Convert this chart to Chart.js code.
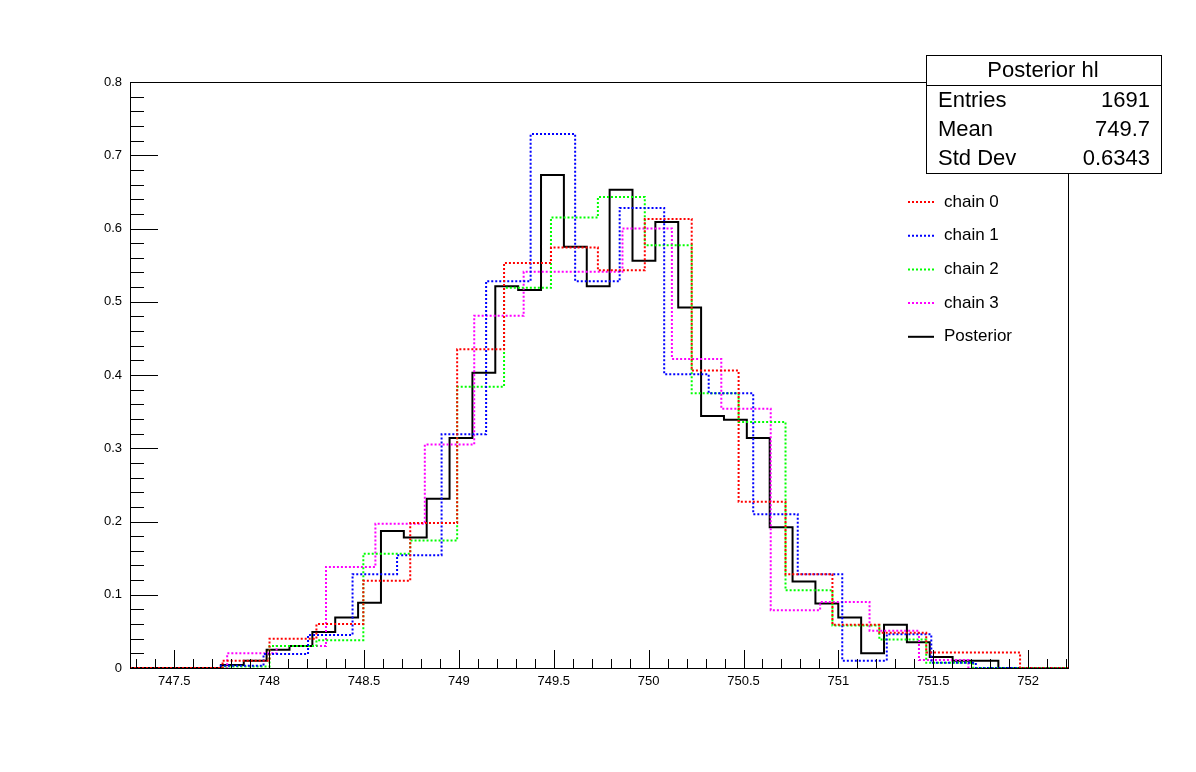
<!DOCTYPE html>
<html>
<head>
<meta charset="utf-8">
<script src="https://cdn.jsdelivr.net/npm/chart.js@4/dist/chart.umd.min.js"></script>
<style>
  body { margin: 0; background: #fff; }
  #wrap { width: 1196px; height: 772px; }
</style>
</head>
<body>
<div id="wrap"><canvas id="c" width="1196" height="772"></canvas></div>
<script>
// histogram bins: first edge, bin width, contents
const xMin = 747.267, xMax = 752.21;
const xTicksMajor = 0.5, yTicksMajor = 0.1;

const chain0Start = 747.755, chain0Width = 0.2472;
const chain0 = [0.010, 0.040, 0.060, 0.119, 0.198, 0.435, 0.553, 0.574, 0.543, 0.613, 0.406, 0.227, 0.128, 0.059, 0.048, 0.021, 0.021];

const chain1Start = 747.736, chain1Width = 0.2346;
const chain1 = [0.003, 0.019, 0.045, 0.128, 0.154, 0.319, 0.528, 0.729, 0.528, 0.628, 0.401, 0.375, 0.210, 0.128, 0.010, 0.046, 0.007];

const chain2Start = 747.755, chain2Width = 0.2472;
const chain2 = [0.002, 0.030, 0.038, 0.156, 0.174, 0.384, 0.519, 0.615, 0.643, 0.577, 0.375, 0.336, 0.106, 0.058, 0.039, 0.007];

const chain3Start = 747.779, chain3Width = 0.2604;
const chain3 = [0.020, 0.030, 0.138, 0.197, 0.305, 0.481, 0.541, 0.541, 0.600, 0.422, 0.354, 0.079, 0.090, 0.051, 0.011];

const postStart = 747.746, postWidth = 0.1205;
const posterior = [0.004, 0.010, 0.025, 0.030, 0.049, 0.069, 0.089, 0.187, 0.178, 0.231, 0.314, 0.403, 0.521, 0.516, 0.673, 0.575, 0.521, 0.653, 0.556, 0.609, 0.492, 0.344, 0.339, 0.314, 0.192, 0.118, 0.088, 0.069, 0.020, 0.059, 0.035, 0.015, 0.010, 0.010];

const legendNames = ['chain 0', 'chain 1', 'chain 2', 'chain 3', 'Posterior'];
const statsTitle = 'Posterior hl';
const statsRows = [['Entries', '1691'], ['Mean', '749.7'], ['Std Dev', '0.6343']];

// turn bins into step points
function steps(start, width, vals) {
    const pts = [{ x: xMin, y: 0 }];
    vals.forEach((v, i) => pts.push({ x: start + i * width, y: v }));
    pts.push({ x: start + vals.length * width, y: 0 });
    pts.push({ x: xMax, y: 0 });
    return pts;
}

function serie(label, pts, color, dotted) {
    return {
        label: label, data: pts, borderColor: color, borderWidth: 2,
        borderDash: dotted ? [2, 2] : [], stepped: 'before',
        pointRadius: 0, fill: false, tension: 0
    };
}

const colors = ['#ff0000', '#0000ff', '#00ff00', '#ff00ff', '#000000'];

const rootDeco = {
    id: 'rootDeco',
    afterDraw(chart) {
        const g = chart.ctx, a = chart.chartArea;
        const xs = chart.scales.x, ys = chart.scales.y;
        g.save();
        g.strokeStyle = '#000'; g.lineWidth = 1;
        g.strokeRect(a.left + 0.5, a.top + 0.5, a.right - a.left, a.bottom - a.top);
        // ticks inside the frame
        g.beginPath();
        for (let v = 747.3; v <= xMax; v += 0.1) {
            const vv = Math.round(v * 10) / 10;
            const px = Math.round(xs.getPixelForValue(vv)) + 0.5;
            const major = Math.abs(vv * 2 - Math.round(vv * 2)) < 1e-6;
            g.moveTo(px, a.bottom); g.lineTo(px, a.bottom - (major ? 18 : 9));
        }
        for (let i = 0; i <= 40; i++) {
            const v = i * 0.02;
            const py = Math.round(ys.getPixelForValue(v)) + 0.5;
            g.moveTo(a.left, py); g.lineTo(a.left + (i % 5 === 0 ? 28 : 14), py);
        }
        g.stroke();
        // legend
        g.font = '17px "Liberation Sans", Arial, sans-serif';
        g.textBaseline = 'middle';
        legendNames.forEach((n, i) => {
            const y = 202 + i * 33.7;
            g.strokeStyle = colors[i]; g.lineWidth = 2;
            g.setLineDash(i < 4 ? [2, 2] : []);
            g.beginPath(); g.moveTo(908, y); g.lineTo(934, y); g.stroke();
            g.setLineDash([]);
            g.fillStyle = '#000'; g.fillText(n, 944, y);
        });
        // stats box
        g.fillStyle = '#fff'; g.fillRect(926, 55, 235, 118);
        g.strokeStyle = '#000'; g.lineWidth = 1;
        g.strokeRect(926.5, 55.5, 235, 118);
        g.beginPath(); g.moveTo(926, 85.5); g.lineTo(1161, 85.5); g.stroke();
        g.font = '22px "Liberation Sans", Arial, sans-serif';
        g.fillStyle = '#000';
        g.textAlign = 'center'; g.fillText(statsTitle, 1043, 71);
        statsRows.forEach((r, i) => {
            const y = 101 + i * 29;
            g.textAlign = 'left'; g.fillText(r[0], 938, y);
            g.textAlign = 'right'; g.fillText(r[1], 1150, y);
        });
        g.restore();
    }
};

document.addEventListener('DOMContentLoaded', () => {
    new Chart(document.getElementById('c').getContext('2d'), {
        type: 'line',
        data: {
            datasets: [
                serie('chain 0', steps(chain0Start, chain0Width, chain0), colors[0], true),
                serie('chain 1', steps(chain1Start, chain1Width, chain1), colors[1], true),
                serie('chain 2', steps(chain2Start, chain2Width, chain2), colors[2], true),
                serie('chain 3', steps(chain3Start, chain3Width, chain3), colors[3], true),
                serie('Posterior', steps(postStart, postWidth, posterior), colors[4], false)
            ]
        },
        options: {
            responsive: false, animation: false,
            layout: { padding: { top: 82, right: 128, left: 0, bottom: 0 } },
            plugins: { legend: { display: false }, tooltip: { enabled: false } },
            scales: {
                x: {
                    type: 'linear', min: xMin, max: xMax,
                    afterFit: s => { s.height = 104; },
                    afterBuildTicks: s => {
                        s.ticks = [];
                        for (let v = 747.5; v <= 752.01; v += xTicksMajor) s.ticks.push({ value: v });
                    },
                    grid: { display: false, drawTicks: false },
                    border: { display: false },
                    ticks: { color: '#000', padding: 6, maxRotation: 0, autoSkip: false,
                        font: { family: '"Liberation Sans", Arial', size: 13 },
                        callback: v => String(Math.round(v * 10) / 10) }
                },
                y: {
                    min: 0, max: 0.8,
                    afterFit: s => { s.width = 130; },
                    afterBuildTicks: s => {
                        s.ticks = [];
                        for (let i = 0; i <= 8; i++) s.ticks.push({ value: i * yTicksMajor });
                    },
                    grid: { display: false, drawTicks: false },
                    border: { display: false },
                    ticks: { color: '#000', padding: 8, autoSkip: false,
                        font: { family: '"Liberation Sans", Arial', size: 13 },
                        callback: v => String(Math.round(v * 10) / 10) }
                }
            }
        },
        plugins: [rootDeco]
    });
});
</script>
</body>
</html>
